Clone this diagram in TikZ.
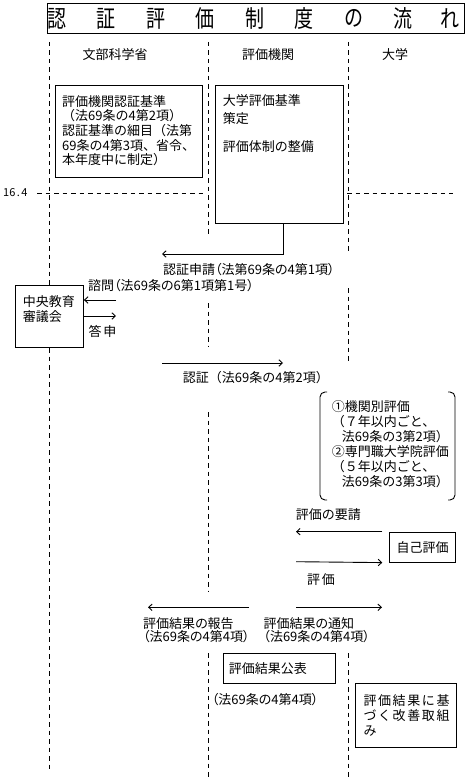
\documentclass[tikz,border=0pt]{standalone}
\usepackage{fontspec}
\usepackage{graphicx}
\setmainfont{Noto Sans CJK JP}
\newfontfamily\pfont{Noto Sans CJK JP}[RawFeature=+palt]
\usetikzlibrary{arrows.meta}
\newcommand\ls{\hspace{1.6pt}}
\begin{document}
\begin{tikzpicture}[x=1pt,y=-1pt,
  lane/.style={line width=0.8pt, dash pattern=on 4.5pt off 4pt},
  box/.style={draw, line width=0.9pt, fill=white, inner sep=0pt},
  txt/.style={inner sep=0pt, anchor=north west, align=left, font=\fontsize{13}{14.7}\selectfont},
  lbl/.style={inner sep=0pt, anchor=west, font=\fontsize{13}{15}\selectfont},
  plbl/.style={inner sep=0pt, anchor=west, font=\fontsize{13}{15}\selectfont\pfont},
  ptxt/.style={inner sep=0pt, anchor=north west, align=left, font=\fontsize{13}{13.4}\selectfont\pfont},
  arr/.style={line width=0.9pt, -{Straight Barb[length=3.5pt,width=6.5pt]}},
]
\useasboundingbox (0,0) rectangle (469,778);

% title
\node[draw, line width=0.9pt, anchor=north west, minimum width=417pt, minimum height=30pt, inner sep=0pt] (title) at (47,3) {};
\foreach \c/\xx [count=\i] in {認/56.7,証/106.2,評/155.7,価/205.2,制/254.7,度/304.2,の/353.7,流/403.2,れ/450}
  \node[inner sep=0pt, font=\fontsize{19}{19}\selectfont] (ti\i) at (\xx,18.5) {\scalebox{1}[1.25]{\c}};

% column headers
\node[lbl, anchor=center] (mext) at (115,55) {文部科学省};
\node[lbl, anchor=center] (agency) at (268,55) {評価機関};
\node[lbl, anchor=center] (univ) at (395,55) {大学};

% lanes
\draw[lane] (49,42) -- (49,770);
\draw[lane] (208,42) -- (208,237);
\draw[lane] (208,303) -- (208,347);
\draw[lane] (208,412) -- (208,592);
\draw[lane] (208,653) -- (208,778);
\draw[lane] (348,42) -- (348,253);
\draw[lane] (348,288) -- (348,363);
\draw[lane] (348,653) -- (348,778);
\draw[lane] (37,193) -- (203,193);
\draw[lane] (347,193) -- (453,193);
\node[lbl, font=\fontsize{11}{11}\selectfont] (date) at (3,193) {16\kern1.5pt.\kern1.5pt4};

% box 1
\node[box, anchor=north west, minimum width=147pt, minimum height=92pt] (b1) at (55,85) {};
\node[txt] (b1t) at (62,95) {評価機関認証基準\\（法69条の4第2項）\\認証基準の細目（法第\\69条の4第3項、省令、\\本年度中に制定）};

% box 2
\node[box, anchor=north west, minimum width=128pt, minimum height=138pt] (b2) at (215,85) {};
\node[txt, font=\fontsize{13}{17.6}\selectfont] (b2t) at (222.7,94.7) {大学評価基準\\策定};
\node[txt] (b2u) at (222.7,140.7) {評価体制の整備};

% application arrow
\coordinate (reqEnd) at (162,254);
\draw[arr] ([xshift=4pt]b2.south) |- (reqEnd);
\node[plbl] (reqLbl) at (163,270) {認証申請（法第69条の4第1項）};

% central council
\node[box, anchor=north west, minimum width=68pt, minimum height=62pt] (cc) at (15,285) {};
\node[txt, font=\fontsize{13}{15.7}\selectfont] (cct) at (22.7,295) {中央教育\\審議会};
\node[plbl] (consLbl) at (88,286) {諮問（法69条の6第1項第1号）};
\coordinate (consStart) at (116,300);
\draw[arr] (consStart) -- (cc.east |- consStart);
\coordinate (ansEnd) at (116,316);
\draw[arr] (cc.east |- ansEnd) -- (ansEnd);
\node[lbl] (ansLbl) at (88.5,331) {答\ls 申};

% certification
\coordinate (certStart) at (162,363);
\coordinate (certEnd) at (283,363);
\draw[arr] (certStart) -- (certEnd);
\node[lbl] (certLbl) at (182.7,377.3) {認証（法69条の4第2項）};

% bracket
\draw[line width=0.9pt, rounded corners=5pt] (327,392) -- (320,392) -- (320,500) -- (327,500);
\draw[line width=0.9pt, rounded corners=5pt] (448,392) -- (455,392) -- (455,500) -- (448,500);
\node[txt, font=\fontsize{13}{15}\selectfont] (evalTxt) at (331.7,400.7) {①機関別評価\\（７年以内ごと、\\\hspace*{10pt}法69条の3第2項）\\②専門職大学院評価\\（５年以内ごと、\\\hspace*{10pt}法69条の3第3項）};

% self evaluation
\node[box, anchor=north west, minimum width=65.7pt, minimum height=30pt, font=\fontsize{13}{15}\selectfont] (jk) at (389.3,531.7) {自己評価};
\node[lbl] (askLbl) at (295.7,515) {評価の要請};
\coordinate (askEnd) at (296,531.7);
\draw[arr] ([xshift=-7pt]jk.north west) -- (askEnd);
\coordinate (evStart) at (296,561.7);
\draw[arr] (evStart) -- ([xshift=-7pt]jk.south west);
\node[lbl] (evLbl) at (307,580) {評\ls 価};

% results
\coordinate (repS) at (249,607.3);
\coordinate (repE) at (148,607.3);
\draw[arr] (repS) -- (repE);
\node[ptxt] (repLbl) at (143,617.3) {評価結果の報告\\（法69条の4第4項）};
\coordinate (notS) at (296,607.3);
\coordinate (notE) at (382,607.3);
\draw[arr] (notS) -- (notE);
\node[ptxt] (notLbl) at (263.3,617.3) {評価結果の通知\\（法69条の4第4項）};

% publication
\node[box, anchor=north west, minimum width=112.3pt, minimum height=30pt, text width=101pt, inner xsep=5.6pt, align=left, font=\fontsize{13}{15}\selectfont] (pub) at (222.7,653.3) {評価結果公表};
\node[plbl] (pubLbl) at (211.7,700) {（法69条の4第4項）};

% improvement
\node[box, anchor=north west, minimum width=100.7pt, minimum height=63.4pt] (imp) at (355,683.3) {};
\node[txt, font=\fontsize{13}{15}\selectfont] (impt) at (363.3,694) {評\ls 価\ls 結\ls 果\ls に\ls 基\\づ\ls く\ls 改\ls 善\ls 取\ls 組\\み};
\end{tikzpicture}
\end{document}
